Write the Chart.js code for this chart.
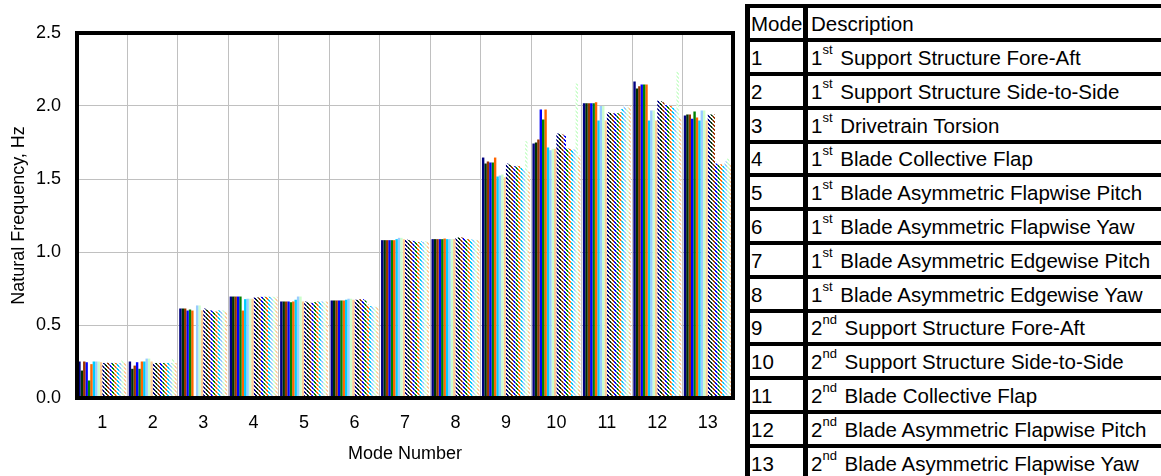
<!DOCTYPE html>
<html>
<head>
<meta charset="utf-8">
<script src="https://cdn.jsdelivr.net/npm/chart.js@4/dist/chart.umd.min.js"></script>
<style>
  body { margin: 0; background: #fff; overflow: hidden; width: 1161px; height: 476px; }
  #wrap { position: absolute; left: 0; top: 0; width: 740px; height: 476px; }
  #tbl { position: absolute; left: 745px; top: 4.4px; width: 440px;
         border-left: 5px solid #000; border-top: 4px solid #000;
         font: 20.5px "Liberation Sans", Arial, sans-serif; color: #000; }
  .row { display: flex; height: 33.8px; box-sizing: border-box; border-bottom: 4px solid #000; }
  .c1, .c2 { display: flex; align-items: center; white-space: nowrap; padding-top: 2px; box-sizing: border-box; }
  .c1 { width: 58px; border-right: 5px solid #000; padding-left: 1px; }
  .c2 { padding-left: 3px; }
  sup { font-size: 13px; line-height: 0; vertical-align: baseline; position: relative; top: -8px; margin-right: 2px; }
</style>
</head>
<body>
<div id="wrap"><canvas id="freqChart"></canvas></div>
<div id="tbl"></div>
<script>
const modes = ['1', '2', '3', '4', '5', '6', '7', '8', '9', '10', '11', '12', '13'];
const yTicks = [0, 0.5, 1.0, 1.5, 2.0, 2.5];

// solid series
const navy      = [0.25, 0.25, 0.613, 0.695, 0.661, 0.668, 1.081, 1.088, 1.647, 1.743, 2.019, 2.168, 1.935];
const darkGreen = [0.188, 0.2, 0.613, 0.695, 0.661, 0.668, 1.081, 1.088, 1.606, 1.75, 2.019, 2.12, 1.942];
const brown     = [0.25, 0.222, 0.613, 0.695, 0.661, 0.668, 1.081, 1.088, 1.62, 1.771, 2.019, 2.136, 1.942];
const blue      = [0.245, 0.245, 0.599, 0.695, 0.661, 0.668, 1.081, 1.088, 1.613, 1.976, 2.019, 2.147, 1.912];
const green     = [0.12, 0.2, 0.606, 0.695, 0.656, 0.668, 1.081, 1.088, 1.613, 1.908, 2.019, 2.147, 1.962];
const orange    = [0.232, 0.25, 0.599, 0.599, 0.661, 0.668, 1.081, 1.092, 1.647, 1.976, 2.026, 2.147, 1.921];
const skyBlue   = [0.25, 0.25, null, 0.677, 0.673, 0.673, 1.088, 1.088, 1.517, 1.716, 1.9, 1.9, 1.9];
const paleBlue  = [0.25, 0.27, 0.634, 0.68, 0.695, 0.68, 1.097, 1.088, 1.524, 1.697, 2.0, 1.969, 1.969];
const paleGreen = [0.25, 0.27, 0.634, 0.68, 0.695, 0.68, 1.097, 1.088, 1.531, 1.707, 2.0, 1.969, 1.969];
const peach     = [0.245, 0.25, 0.6, 0.68, 0.661, 0.673, 1.088, 1.088, 1.512, 1.707, 1.9, 1.9, 1.9];

// hatched series
const navyH      = [0.24, 0.24, 0.613, 0.688, 0.661, 0.673, 1.088, 1.097, 1.606, 1.812, 1.958, 2.038, 1.942];
const darkGreenH = [0.24, 0.24, 0.606, 0.688, 0.656, 0.673, 1.081, 1.1, 1.599, 1.812, 1.954, 2.033, 1.942];
const brownH     = [0.242, 0.24, 0.6, 0.693, 0.652, 0.677, 1.081, 1.1, 1.592, 1.805, 1.95, 2.026, 1.942];
const blueH      = [0.24, 0.24, 0.6, 0.693, 0.652, 0.677, 1.076, 1.097, 1.588, 1.798, 1.95, 2.006, 1.606];
const greenH     = [0.242, 0.24, 0.592, 0.693, 0.656, 0.668, 1.074, 1.088, 1.59, 1.711, 1.95, 2.006, 1.6];
const orangeH    = [0.24, 0.24, 0.592, 0.693, 0.661, 0.64, 1.069, 1.088, 1.588, 1.707, 1.958, 2.0, 1.6];
const skyBlueH   = [0.24, 0.24, 0.6, 0.693, 0.661, 0.63, 1.074, 1.085, 1.577, 1.702, 1.98, 1.99, 1.59];
const paleBlueH  = [0.24, 0.24, 0.6, 0.693, 0.661, 0.63, 1.069, 1.085, 1.565, 1.702, 2.004, 1.98, 1.62];
const paleGreenH = [0.26, 0.27, 0.6, 0.693, 0.661, 0.625, 1.074, 1.083, 1.759, 2.154, 1.99, 2.234, 1.64];
const peachH     = [0.24, 0.24, 0.59, 0.693, 0.661, 0.625, 1.069, 1.083, 1.551, 1.661, 2.004, 1.919, 1.606];

const descriptions = [
  ['1', 'st', 'Support Structure Fore-Aft'],
  ['1', 'st', 'Support Structure Side-to-Side'],
  ['1', 'st', 'Drivetrain Torsion'],
  ['1', 'st', 'Blade Collective Flap'],
  ['1', 'st', 'Blade Asymmetric Flapwise Pitch'],
  ['1', 'st', 'Blade Asymmetric Flapwise Yaw'],
  ['1', 'st', 'Blade Asymmetric Edgewise Pitch'],
  ['1', 'st', 'Blade Asymmetric Edgewise Yaw'],
  ['2', 'nd', 'Support Structure Fore-Aft'],
  ['2', 'nd', 'Support Structure Side-to-Side'],
  ['2', 'nd', 'Blade Collective Flap'],
  ['2', 'nd', 'Blade Asymmetric Flapwise Pitch'],
  ['2', 'nd', 'Blade Asymmetric Flapwise Yaw']
];

const colors = ['#000080', '#003300', '#993300', '#0000FF', '#008000',
                '#FF6600', '#00CCFF', '#99CCFF', '#CCFFCC', '#FFCC99'];
const solidData = [navy, darkGreen, brown, blue, green, orange, skyBlue, paleBlue, paleGreen, peach];
const hatchData = [navyH, darkGreenH, brownH, blueH, greenH, orangeH, skyBlueH, paleBlueH, paleGreenH, peachH];

// table
const tbl = document.getElementById('tbl');
let html = '<div class="row"><div class="c1">Mode</div><div class="c2">Description</div></div>';
descriptions.forEach((d, i) => {
  html += '<div class="row"><div class="c1">' + modes[i] + '</div><div class="c2">' +
          d[0] + '<sup>' + d[1] + '</sup>&nbsp;' + d[2] + '</div></div>';
});
tbl.innerHTML = html;

// diagonal stripe pattern
function hatch(color) {
  const c = document.createElement('canvas');
  c.width = 4; c.height = 4;
  const g = c.getContext('2d');
  g.fillStyle = '#fff';
  g.fillRect(0, 0, 4, 4);
  g.fillStyle = color;
  for (let y = 0; y < 4; y++) {
    g.fillRect(y % 4, y, 1, 1);
    g.fillRect((y + 1) % 4, y, 1, 1);
  }
  return g.createPattern(c, 'repeat');
}

const datasets = [];
solidData.forEach((d, i) => datasets.push({ data: d, backgroundColor: colors[i] }));
hatchData.forEach((d, i) => datasets.push({ data: d, backgroundColor: hatch(colors[i]) }));

const frame = {
  id: 'frame',
  afterDatasetsDraw(chart) {
    const a = chart.chartArea;
    const ctx = chart.ctx;
    ctx.save();
    ctx.strokeStyle = '#000';
    ctx.lineWidth = 4;
    ctx.strokeRect(a.left, a.top, a.right - a.left, a.bottom - a.top);
    ctx.restore();
  }
};

const font = { family: '"Liberation Sans", Arial, sans-serif', size: 18 };

const ctx = document.getElementById('freqChart').getContext('2d');
const freqChart = new Chart(ctx, {
  type: 'bar',
  data: { labels: modes, datasets: datasets },
  options: {
    responsive: true,
    maintainAspectRatio: false,
    animation: false,
    layout: { padding: { top: 33, right: 7, left: 0, bottom: 0 } },
    datasets: { bar: { categoryPercentage: 0.95, barPercentage: 1.0, borderWidth: 0 } },
    plugins: { legend: { display: false }, tooltip: { enabled: false } },
    scales: {
      x: {
        grid: { color: '#c0c0c0', lineWidth: 1, drawTicks: false, offset: true },
        border: { display: false },
        ticks: { color: '#000', font: font, padding: 14, maxRotation: 0 },
        title: { display: true, text: 'Mode Number', color: '#000', font: font, padding: { top: 0, bottom: 11 } },
        afterFit(scale) { scale.height = 78; }
      },
      y: {
        min: 0,
        max: 2.5,
        afterBuildTicks(scale) { scale.ticks = yTicks.map(v => ({ value: v })); },
        grid: { color: '#c0c0c0', lineWidth: 1, drawTicks: false },
        border: { display: false },
        ticks: { color: '#000', font: font, padding: 16, callback: v => v.toFixed(1) },
        title: { display: true, text: 'Natural Frequency, Hz', color: '#000', font: font, padding: { top: 8, bottom: 0 } },
        afterFit(scale) { scale.width = 77; }
      }
    }
  },
  plugins: [frame]
});
</script>
</body>
</html>
